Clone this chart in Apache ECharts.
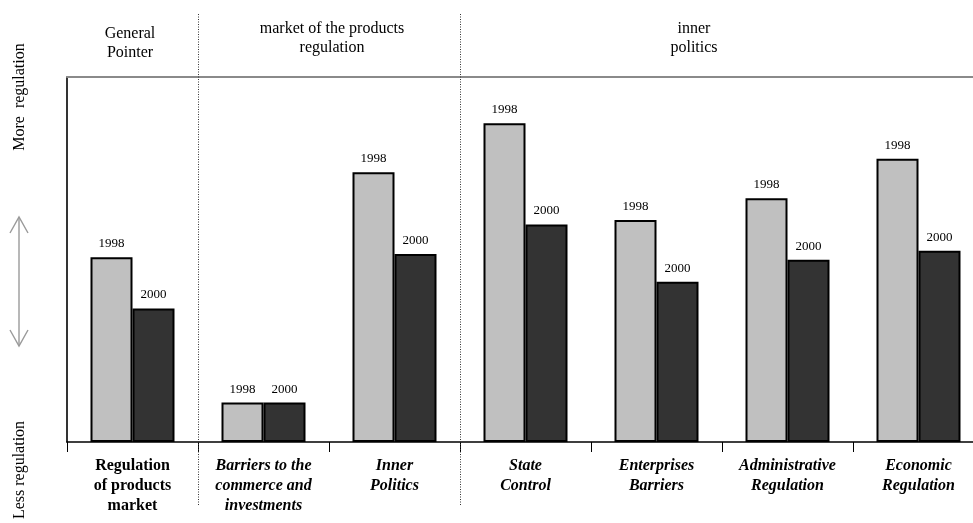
<!DOCTYPE html>
<html>
<head>
<meta charset="utf-8">
<script src="https://cdn.jsdelivr.net/npm/echarts@6/dist/echarts.min.js"></script>
<style>
  html, body { margin: 0; padding: 0; background: #ffffff; }
  #chart { width: 973px; height: 523px; }
</style>
</head>
<body>
<div id="chart"></div>
<script>
// Product market regulation indicators, 1998 vs 2000
const categories = [
  'Regulation\nof products\nmarket',
  'Barriers to the\ncommerce and\ninvestments',
  'Inner\nPolitics',
  'State\nControl',
  'Enterprises\nBarriers',
  'Administrative\nRegulation',
  'Economic\nRegulation'
];
const italicCategory = [false, true, true, true, true, true, true];
const seriesNames = ['1998', '2000'];
const values1998 = [5.06, 1.08, 7.39, 8.73, 6.08, 6.68, 7.76];
const values2000 = [3.66, 1.08, 5.15, 5.96, 4.39, 4.99, 5.24];
const groupTitles = ['General\nPointer', 'market of the products\nregulation', 'inner\npolitics'];
const separatorBefore = [1, 3]; // category indexes where a new group begins
const sideLabels = ['More  regulation', 'Less regulation'];

const SERIF = "'Liberation Serif', 'Times New Roman', serif";

const chart = echarts.init(document.getElementById('chart'), null, { renderer: 'canvas' });

const barStyle = (color) => ({ color: color, borderColor: '#000000', borderWidth: 2 });
const barLabel = {
  show: true,
  position: 'top',
  distance: 7,
  formatter: (p) => p.seriesName,
  fontFamily: SERIF,
  fontSize: 13,
  color: '#000000'
};

chart.setOption({
  backgroundColor: '#ffffff',
  animation: false,
  grid: { left: 67, top: 77, width: 917, height: 365, containLabel: false, outerBoundsMode: 'none' },
  xAxis: [
    {
      type: 'category',
      position: 'bottom',
      data: categories.map((c, i) => ({
        value: c,
        textStyle: { fontStyle: italicCategory[i] ? 'italic' : 'normal' }
      })),
      axisLine: { lineStyle: { color: '#000000', width: 1.6 } },
      axisTick: { show: true, length: 10, interval: 0, lineStyle: { color: '#000000', width: 1 } },
      axisLabel: {
        interval: 0,
        margin: 14,
        fontFamily: SERIF,
        fontSize: 16,
        fontWeight: 'bold',
        lineHeight: 20,
        color: '#000000'
      },
      splitLine: { show: false }
    },
    {
      type: 'category',
      position: 'top',
      data: categories,
      axisLine: { lineStyle: { color: '#8a8a8a', width: 2 } },
      axisTick: { show: false },
      axisLabel: { show: false }
    }
  ],
  yAxis: {
    type: 'value',
    min: 0,
    max: 10,
    axisLine: { show: true, lineStyle: { color: '#000000', width: 1.6 } },
    axisTick: { show: false },
    axisLabel: { show: false },
    splitLine: { show: false }
  },
  series: [
    {
      name: seriesNames[0],
      type: 'bar',
      data: values1998,
      barWidth: 42,
      barGap: '0%',
      itemStyle: barStyle('#c0c0c0'),
      label: barLabel
    },
    {
      name: seriesNames[1],
      type: 'bar',
      data: values2000,
      barWidth: 42,
      barGap: '0%',
      itemStyle: barStyle('#333333'),
      label: barLabel
    }
  ]
});

// Group separators sit on category boundaries of the bottom axis
const c0 = chart.convertToPixel({ xAxisIndex: 0 }, 0);
const c1 = chart.convertToPixel({ xAxisIndex: 0 }, 1);
const band = c1 - c0;
const boundaryX = (i) => chart.convertToPixel({ xAxisIndex: 0 }, i) - band / 2;

const graphics = separatorBefore.map((i) => ({
  type: 'line',
  shape: { x1: Math.round(boundaryX(i)) + 0.5, y1: 14, x2: Math.round(boundaryX(i)) + 0.5, y2: 505 },
  style: { stroke: '#333333', lineWidth: 1, lineDash: [1, 1.5] },
  z: 10
}));

// Group headings above the plot
const headerStyle = { fontFamily: SERIF, fontSize: 16, fill: '#000000', align: 'center', verticalAlign: 'middle', lineHeight: 19 };
const headerPos = [[130, 43], [332, 38], [694, 38]];
groupTitles.forEach((t, i) => {
  graphics.push({
    type: 'text',
    x: headerPos[i][0],
    y: headerPos[i][1],
    style: Object.assign({ text: t }, headerStyle),
    z: 10
  });
});

// Vertical side captions
[[20, 97], [20, 470]].forEach((p, i) => {
  graphics.push({
    type: 'text',
    x: p[0],
    y: p[1],
    rotation: Math.PI / 2,
    style: { text: sideLabels[i], fontFamily: SERIF, fontSize: 16, fill: '#000000', align: 'center', verticalAlign: 'middle' },
    z: 10
  });
});

// Double-headed arrow between the captions
const arrowStyle = { stroke: '#9a9a9a', lineWidth: 1.4, fill: null };
graphics.push(
  { type: 'line', shape: { x1: 19, y1: 217, x2: 19, y2: 346 }, style: arrowStyle },
  { type: 'polyline', shape: { points: [[10, 233], [19, 217], [28, 233]] }, style: arrowStyle },
  { type: 'polyline', shape: { points: [[10, 330], [19, 346], [28, 330]] }, style: arrowStyle }
);

chart.setOption({ graphic: graphics });
</script>
</body>
</html>
